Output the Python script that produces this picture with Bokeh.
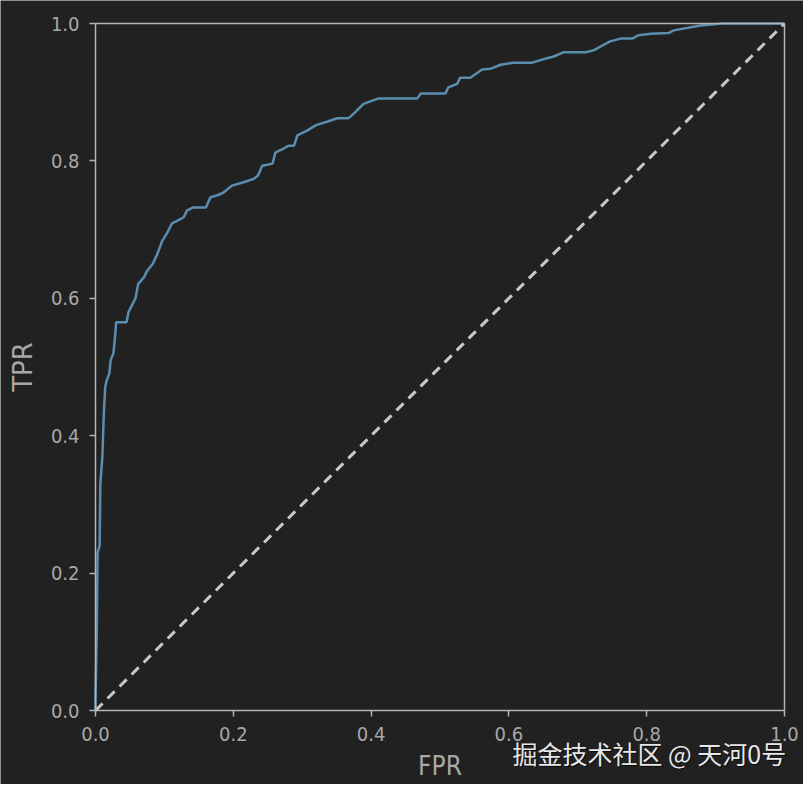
import math
from bokeh.plotting import figure
from bokeh.models import Range1d, FixedTicker, Label, LinearAxis
from bokeh.embed import file_html
from bokeh.resources import INLINE

# ROC curve data
fpr = [0.0, 0.0, 0.002, 0.003, 0.006, 0.007, 0.010, 0.012, 0.014, 0.016, 0.020, 0.022,
       0.026, 0.028, 0.030, 0.045, 0.048, 0.053, 0.058, 0.062, 0.070, 0.075, 0.083, 0.090,
       0.097, 0.104, 0.111, 0.119, 0.128, 0.133, 0.141, 0.160, 0.167, 0.177, 0.186, 0.198,
       0.215, 0.230, 0.236, 0.242, 0.257, 0.261, 0.273, 0.280, 0.288, 0.293, 0.307, 0.320,
       0.336, 0.351, 0.367, 0.377, 0.389, 0.411, 0.467, 0.472, 0.508, 0.512, 0.525, 0.529,
       0.544, 0.561, 0.573, 0.588, 0.607, 0.634, 0.650, 0.665, 0.679, 0.711, 0.723, 0.730,
       0.747, 0.762, 0.779, 0.788, 0.806, 0.832, 0.839, 0.878, 0.910, 1.0]
tpr = [0.0, 0.015, 0.12, 0.23, 0.24, 0.33, 0.37, 0.43, 0.47, 0.48, 0.49, 0.51,
       0.52, 0.54, 0.565, 0.565, 0.58, 0.59, 0.60, 0.621, 0.63, 0.64, 0.65, 0.665,
       0.684, 0.695, 0.709, 0.713, 0.718, 0.728, 0.732, 0.732, 0.747, 0.750, 0.754, 0.764,
       0.769, 0.774, 0.779, 0.793, 0.796, 0.812, 0.818, 0.822, 0.822, 0.837, 0.844, 0.852,
       0.857, 0.862, 0.862, 0.871, 0.883, 0.891, 0.891, 0.898, 0.898, 0.907, 0.912, 0.921,
       0.921, 0.933, 0.934, 0.940, 0.943, 0.943, 0.948, 0.952, 0.958, 0.958, 0.961, 0.965,
       0.974, 0.978, 0.978, 0.983, 0.985, 0.986, 0.990, 0.997, 1.0, 1.0]

diag_x = [0.0, 1.0]
diag_y = [0.0, 1.0]

tick_values = [0.0, 0.2, 0.4, 0.6, 0.8, 1.0]
tick_labels = ["0.0", "0.2", "0.4", "0.6", "0.8", "1.0"]

x_label = "FPR"
y_label = "TPR"
watermark = "掘金技术社区 @ 天河0号"

BG = "#212121"
AXIS = "#b4b4b4"
TEXT = "#a8a8a8"

W, H = 803, 784
LEFT, TOP, RIGHT, BOTTOM = 95, 23, 784, 710      # axes box in pixels
px_x = RIGHT - LEFT
px_y = BOTTOM - TOP

# the frame fills the whole canvas so that every text can be drawn inside it
p = figure(width=W, height=H, output_backend="svg", toolbar_location=None,
           x_range=Range1d(-LEFT / px_x, (W - LEFT) / px_x),
           y_range=Range1d(-(H - BOTTOM) / px_y, BOTTOM / px_y),
           min_border=0)

p.background_fill_color = BG
p.border_fill_color = BG
p.outline_line_color = None
p.xgrid.visible = False
p.ygrid.visible = False

p.line(fpr, tpr, line_color="#5a8db0", line_width=2.5)
p.line(diag_x, diag_y, line_color="#c8c8c8", line_width=3, line_dash="10 7")


def style(ax):
    ax.axis_line_color = AXIS
    ax.axis_line_width = 1.5
    ax.major_tick_line_color = AXIS
    ax.major_tick_line_width = 1.5
    ax.major_tick_out = 6
    ax.major_tick_in = 0
    ax.minor_tick_line_color = None
    ax.major_label_text_color = TEXT
    ax.major_label_text_font = "DejaVu Sans Condensed"
    ax.major_label_text_font_size = "20px"
    ax.bounds = (0, 1)
    ax.fixed_location = 0


for ax in (p.xaxis[0], p.yaxis[0]):
    style(ax)
    ax.ticker = FixedTicker(ticks=tick_values)
    ax.major_label_overrides = {v: s for v, s in zip(tick_values, tick_labels)}

p.xaxis.major_label_standoff = 10
p.yaxis.major_label_standoff = 10

# top and right spines
top_spine = LinearAxis(ticker=FixedTicker(ticks=[]))
style(top_spine)
top_spine.fixed_location = 1
right_spine = LinearAxis(ticker=FixedTicker(ticks=[]))
style(right_spine)
right_spine.fixed_location = 1
p.add_layout(top_spine, "above")
p.add_layout(right_spine, "right")

# axis titles (positions given in pixels of the axes box)
p.add_layout(Label(x=0.5, y=-(765 - BOTTOM) / px_y, text=x_label, text_align="center",
                   text_baseline="middle", text_color=TEXT,
                   text_font="DejaVu Sans Condensed", text_font_size="26px"))
p.add_layout(Label(x=(22 - LEFT) / px_x, y=0.5, text=y_label,
                   angle=math.pi / 2, text_align="center", text_baseline="middle",
                   text_color=TEXT, text_font="DejaVu Sans", text_font_size="26px"))

# watermark
wm_x = (512 - LEFT) / px_x
wm_y = -(752 - BOTTOM) / px_y
p.add_layout(Label(x=wm_x, y=wm_y, x_offset=1, y_offset=-1, text=watermark,
                   text_baseline="middle", text_color="#000000", text_alpha=0.7,
                   text_font="Noto Sans CJK SC", text_font_size="25px"))
p.add_layout(Label(x=wm_x, y=wm_y, text=watermark, text_baseline="middle",
                   text_color="#e8e8e8", text_font="Noto Sans CJK SC", text_font_size="25px"))

open("out.html", "w").write(file_html(p, INLINE))
